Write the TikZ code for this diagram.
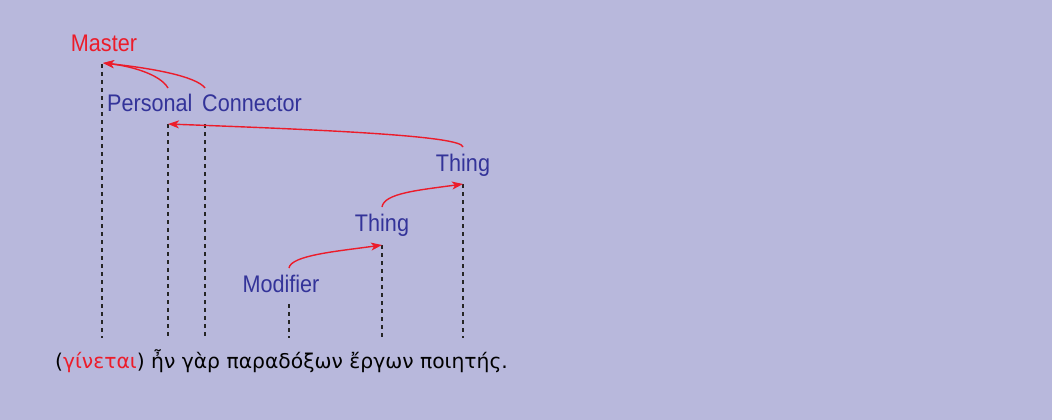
\documentclass[tikz,border=0pt]{standalone}
\usepackage{fontspec}
\setmainfont{Liberation Sans}
\newfontfamily\greekfont[Script=Greek]{DejaVu Sans}
\usetikzlibrary{arrows.meta}
\definecolor{bgc}{HTML}{B8B8DC}
\definecolor{lblue}{HTML}{333399}
\definecolor{lred}{HTML}{EC1C2A}
\tikzset{
  lbl/.style={inner sep=0pt, anchor=base, text=lblue, font=\fontsize{24}{28}\selectfont},
  vline/.style={draw=black!85, line width=1.1pt, dash pattern=on 4pt off 4pt},
  link/.style={draw=lred, line width=1.4pt, -{Stealth[length=11pt,width=8pt,inset=3pt]}}
}
\newcommand{\nar}[1]{\scalebox{0.9}[1]{#1}}
\begin{document}
\begin{tikzpicture}[x=1pt,y=-1pt]
\fill[bgc] (0,0) rectangle (1052,420);
\useasboundingbox (0,0) rectangle (1052,420);
% labels
\node[lbl, text=lred] (master) at (104,52) {\nar{Master}};
\node[lbl, anchor=base west] (personal) at (107,111) {\nar{Personal}};
\node[lbl, anchor=base west] (connector) at (202,111) {\nar{Connector}};
\node[lbl] (thingB) at (463,171) {\nar{Thing}};
\node[lbl] (thingA) at (382,231) {\nar{Thing}};
\node[lbl] (modifier) at (281,292) {\nar{Modifier}};
\node[inner sep=0pt, anchor=base west, font=\greekfont\fontsize{20.3}{24}\selectfont] (greek) at (55,368)
  {(\textcolor{lred}{γίνεται}) ἦν γὰρ παραδόξων ἔργων ποιητής.};
% coordinates
\coordinate (mT) at (102,64);   \coordinate (mB) at (102,338);
\coordinate (pT) at (168,124);  \coordinate (pB) at (168,338);
\coordinate (cT) at (205,124);  \coordinate (cB) at (205,338);
\coordinate (oT) at (289,304);  \coordinate (oB) at (289,338);
\coordinate (aT) at (382,245);  \coordinate (aB) at (382,338);
\coordinate (bT) at (463,184);  \coordinate (bB) at (463,338);
\coordinate (pS) at (168,88);
\coordinate (cS) at (205,88);
\coordinate (bS) at (463,147);
\coordinate (aS) at (382,207);
\coordinate (oS) at (289,268);
\coordinate (mTip) at (103,63);
\coordinate (pTip) at (168,124);
% dashed lines
\foreach \t/\b in {mT/mB,pT/pB,cT/cB,oT/oB,aT/aB,bT/bB}
  \draw[vline] (\t) -- (\b);
% arrows
\draw[link] (pS) .. controls (160,74) and (130,66) .. (mTip);
\draw[link] (cS) .. controls (196,76) and (150,68) .. (mTip);
\draw[link] (bS) .. controls (462,136) and (330,130) .. (pTip);
\draw[link] (aS) .. controls (384,193) and (420,190) .. (bT);
\draw[link] (oS) .. controls (291,255) and (340,251) .. (aT);
\end{tikzpicture}
\end{document}
